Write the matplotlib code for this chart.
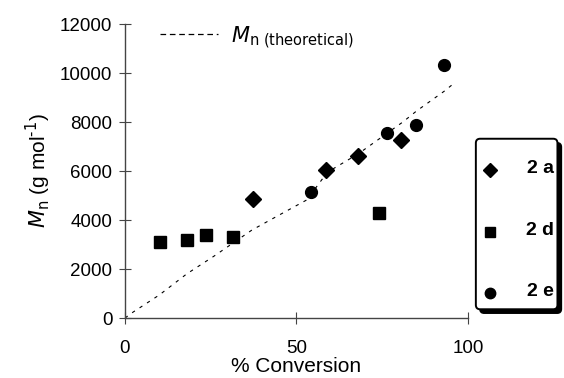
import numpy as np
import matplotlib.pyplot as plt
from matplotlib.lines import Line2D
from matplotlib.patches import FancyBboxPatch

plt.rcParams['font.family'] = ['Liberation Sans', 'DejaVu Sans']

# 2a (diamonds)
conv_2a = np.array([37.3, 58.6, 68.0, 80.6])
mn_2a = np.array([4860, 6060, 6610, 7265])
# 2d (squares)
conv_2d = np.array([10.2, 18.0, 23.6, 31.5, 74.0])
mn_2d = np.array([3100, 3180, 3390, 3300, 4280])
# 2e (circles)
conv_2e = np.array([54.1, 76.3, 84.9, 92.9])
mn_2e = np.array([5130, 7540, 7865, 10340])
# theoretical Mn
conv_th = np.array([0, 2.4, 10, 18, 26, 31.5, 37, 46.6, 53, 59, 68, 76, 81, 85, 93, 96])
mn_th = np.array([0, 245, 940, 1800, 2530, 3060, 3590, 4330, 4820, 5950, 6700, 7500, 8000, 8450, 9250, 9590])

series_labels = ['2 a', '2 d', '2 e']
series_markers = ['D', 's', 'o']

fig = plt.figure(figsize=(5.64, 3.78), dpi=100)
ax = fig.add_axes([0.2216, 0.1587, 0.6082, 0.7778])

ax.plot(conv_th, mn_th, color='black', lw=0.8, linestyle=(0, (3, 5)))
ax.plot(conv_2a, mn_2a, 'D', color='black', ms=8.5)
ax.plot(conv_2d, mn_2d, 's', color='black', ms=8)
ax.plot(conv_2e, mn_2e, 'o', color='black', ms=8.5)

ax.set_xlim(0, 100)
ax.set_ylim(0, 12000)
ax.set_xticks([0, 50, 100])
ax.set_yticks(np.arange(0, 12001, 2000))
for s in ['top', 'right']:
    ax.spines[s].set_visible(False)
for s in ['left', 'bottom']:
    ax.spines[s].set_color('#444444')
    ax.spines[s].set_linewidth(1.0)
ax.tick_params(direction='inout', length=8, width=0.8, color='#444444', labelsize=13.5)
ax.tick_params(axis='x', pad=12)
ax.tick_params(axis='y', pad=5)
ax.set_xlabel('% Conversion', fontsize=15, labelpad=0)
ax.set_ylabel(r'$M_{\rm n}$ (g mol$^{\text{-}1}$)', fontsize=15, labelpad=5)

# theoretical key, top left
fig.add_artist(Line2D([160 / 564, 218 / 564], [1 - 34 / 378, 1 - 34 / 378],
                      color='black', lw=0.9, linestyle=(0, (4.5, 3))))
fig.text(231 / 564, 1 - 38 / 378, r'$M_{\rm n\ (theoretical)}$', fontsize=15,
         va='center', ha='left')

# boxed key, right
lax = fig.add_axes([475 / 564, 1 - 311 / 378, 85 / 564, 174 / 378])
lax.set_xlim(0, 1)
lax.set_ylim(0, 1)
lax.axis('off')
dx, dy = 4 / 85, 4 / 174
shadow = FancyBboxPatch((0.01 + dx, 0.01 - dy), 0.96, 0.98, boxstyle='round,pad=0,rounding_size=0.05',
                        transform=lax.transAxes, facecolor='black', edgecolor='black',
                        lw=1.0, clip_on=False, mutation_aspect=0.5)
box = FancyBboxPatch((0.01, 0.01), 0.96, 0.98, boxstyle='round,pad=0,rounding_size=0.05',
                     transform=lax.transAxes, facecolor='white', edgecolor='black',
                     lw=1.4, clip_on=False, mutation_aspect=0.5)
lax.add_patch(shadow)
lax.add_patch(box)
key_y = [1 - 33 / 174, 1 - 95 / 174, 1 - 156 / 174]
for lab, mk, yy in zip(series_labels, series_markers, key_y):
    lax.plot([0.18], [yy], mk, color='black', ms=7.5 if mk != 's' else 7)
    lax.text(0.93, yy + 0.01, lab, fontsize=14, fontweight='bold', ha='right', va='center')

fig.savefig('out.png', dpi=100)
